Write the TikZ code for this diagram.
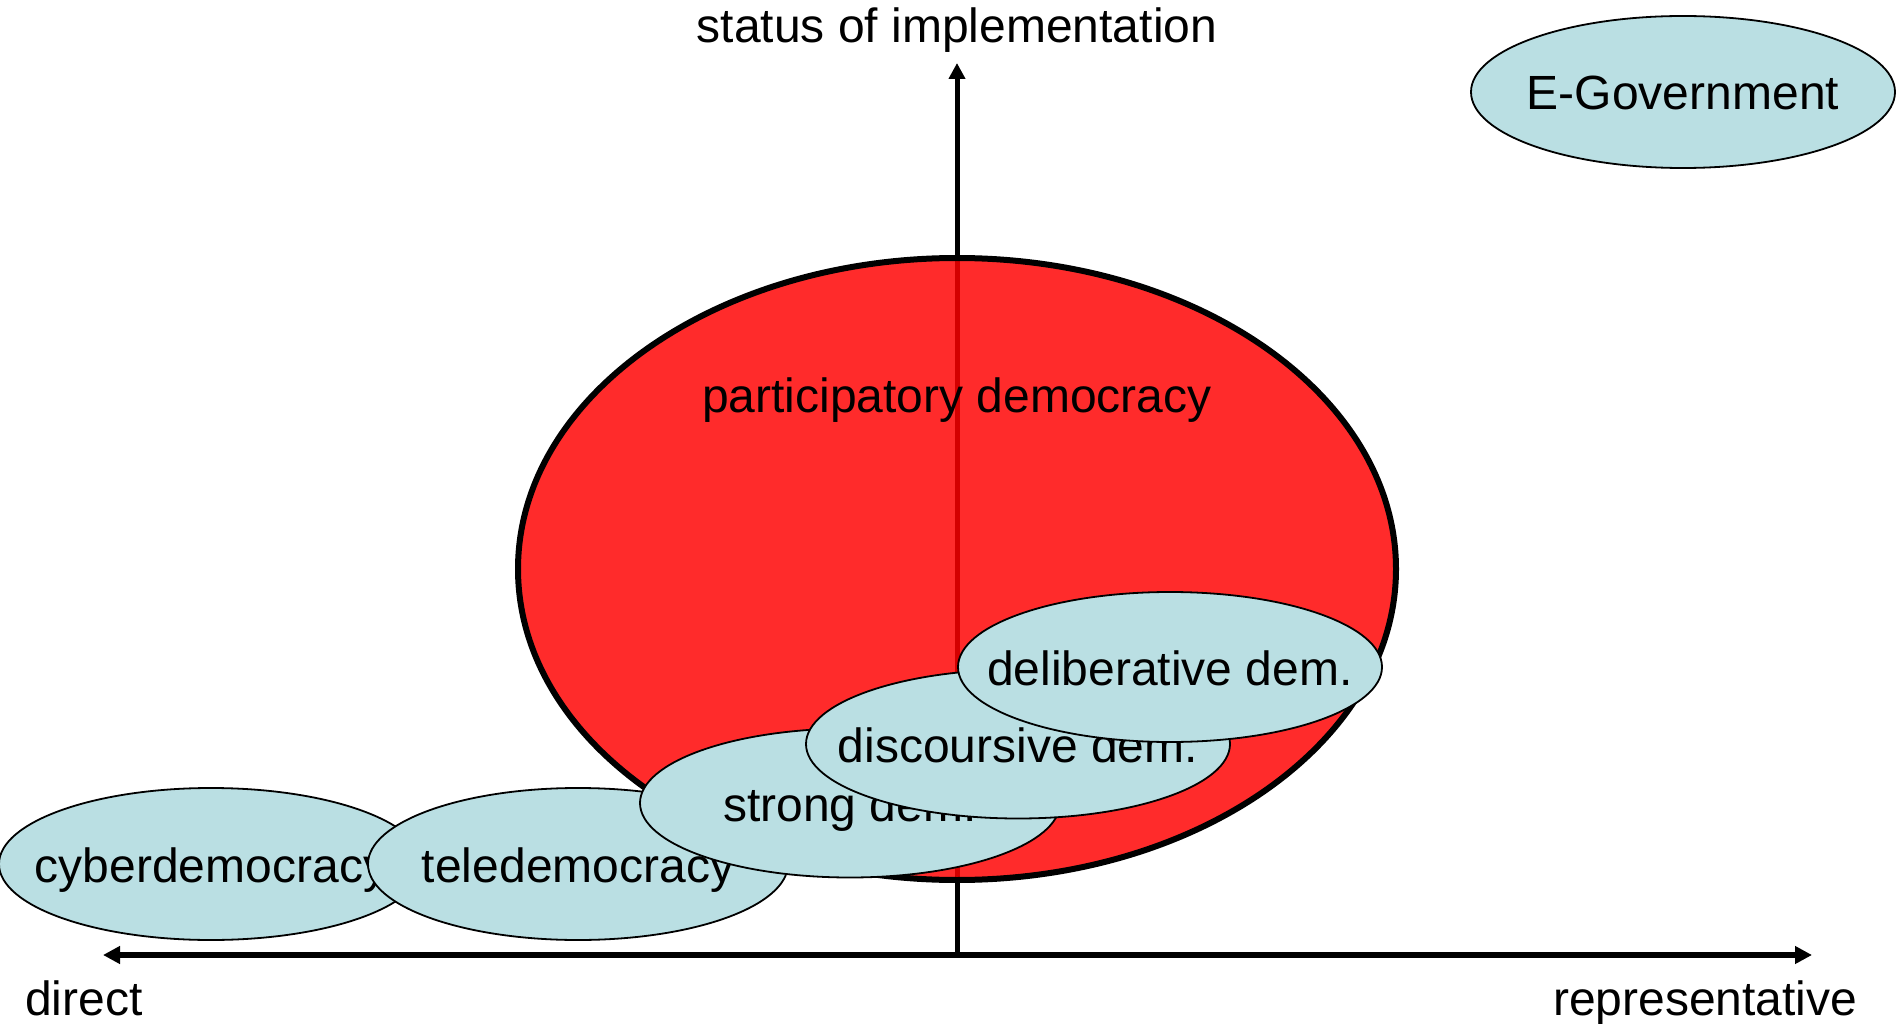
\documentclass[tikz,border=0pt]{standalone}
\usepackage{fontspec}
\setmainfont{Liberation Sans}
\usetikzlibrary{shapes.geometric,arrows.meta}
\definecolor{bubble}{RGB}{186,223,227}
\definecolor{bigred}{RGB}{255,0,0}
\tikzset{
  lbl/.style={font=\fontsize{48}{57}\selectfont, inner sep=0pt},
  bub/.style={ellipse, draw=black, line width=1.8pt, fill=bubble, inner sep=0pt,
    minimum width=424pt, minimum height=152pt, font=\fontsize{48}{57}\selectfont},
}
\newcommand{\bt}[2][-18pt]{\raisebox{#1}[0pt][0pt]{\makebox[0pt][c]{#2}}}
\begin{document}
\begin{tikzpicture}[x=1pt,y=-1pt]
\useasboundingbox (0,0) rectangle (1899,1024);
% axes
\coordinate (origin) at (957,955);
\coordinate (top) at (957,63);
\coordinate (left) at (103,955);
\coordinate (right) at (1812,955);
\draw[line width=5pt, -{Triangle[length=16pt,width=16pt]}] (origin) -- (top);
% big ellipse
\node[ellipse, draw=black, line width=6pt, fill=bigred, fill opacity=0.83, draw opacity=1,
  minimum width=878pt, minimum height=622pt, inner sep=0pt] (part) at (957,569) {};
\node[lbl, anchor=base] (parttext) at (957,413) {participatory democracy};
\draw[line width=6pt, {Triangle[length=17pt,width=17pt]}-{Triangle[length=17pt,width=17pt]}] (left) -- (right);
% labels
\node[lbl, anchor=base] (status) at (957,43) {status of implementation};
\node[lbl, anchor=base west] (direct) at (25,1015) {direct};
\node[lbl, anchor=base west] (repr) at (1553,1015) {representative};
% bubbles
\node[bub] (egov) at (1683,92) {\bt{E-Government}};
\node[bub] (cyber) at (211,864) {\bt{cyberdemocracy}};
\node[bub, minimum width=420pt] (tele) at (578,864) {\bt{teledemocracy}};
\node[bub, minimum width=420pt, minimum height=149pt] (strong) at (850,803) {\bt{strong dem.}};
\node[bub, minimum height=149pt] (disc) at (1018,744) {\bt{discoursive dem.}};
\node[bub, minimum height=150pt] (delib) at (1170,667) {\bt{deliberative dem.}};
\end{tikzpicture}
\end{document}
